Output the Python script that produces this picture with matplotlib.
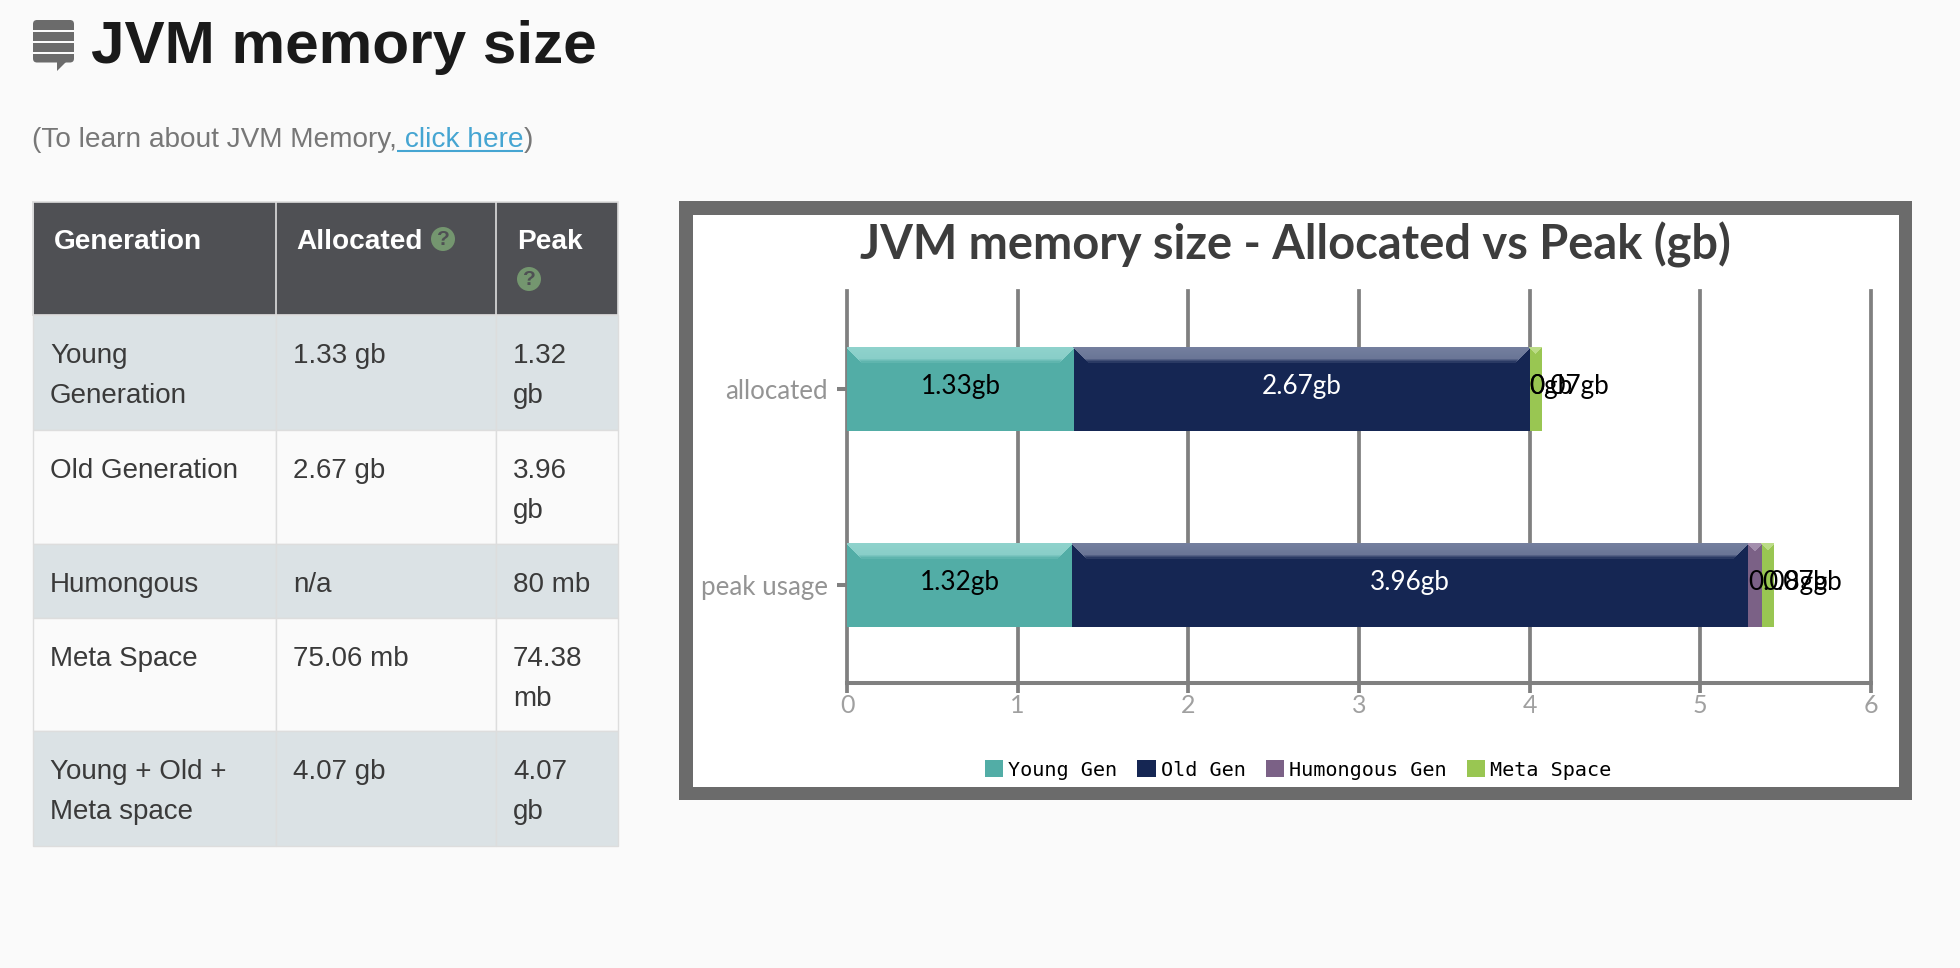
import numpy as np
import matplotlib
matplotlib.use('Agg')
import matplotlib.pyplot as plt
from matplotlib.colors import to_rgb
from matplotlib.patches import Rectangle, FancyBboxPatch, Polygon, Circle

# chart values, gb
categories = ['allocated', 'peak usage']
series_names = ['Young Gen', 'Old Gen', 'Humongous Gen', 'Meta Space']
young_gen = [1.33, 1.32]
old_gen = [2.67, 3.96]
humongous_gen = [0, 0.08]
meta_space = [0.07, 0.07]
x_ticks = [0, 1, 2, 3, 4, 5, 6]

# table text
table_header = ['Generation', 'Allocated', 'Peak']
table_generation = ['Young\nGeneration', 'Old Generation', 'Humongous', 'Meta Space', 'Young + Old +\nMeta space']
table_allocated = ['1.33 gb', '2.67 gb', 'n/a', '75.06 mb', '4.07 gb']
table_peak = ['1.32\ngb', '3.96\ngb', '80 mb', '74.38\nmb', '4.07\ngb']

colors = ['#52ada6', '#152653', '#7b6186', '#99c652']
bevel_colors = ['#8fd2cc', '#747f9e', '#a48fae', '#bcdc88']
label_colors = ['black', 'white', 'black', 'black']

W, H = 1960, 968
BG = '#fafafa'

fig = plt.figure(figsize=(W / 100, H / 100), dpi=100, facecolor=BG)

# page axes in pixels, everything around the chart sits here
page = fig.add_axes([0, 0, 1, 1])
page.set_xlim(0, W)
page.set_ylim(H, 0)
page.axis('off')

SANS = 'Liberation Sans'

# stack icon
page.add_patch(FancyBboxPatch((33, 20), 41, 42.5, boxstyle='round,pad=0,rounding_size=4', fc='#6b6b6b', ec='none'))
for y in [29.5, 41, 52]:
    page.add_patch(Rectangle((33, y), 41, 2.3, fc=BG, ec='none'))
page.add_patch(Polygon([[57, 62], [66, 62], [57, 71]], fc='#6b6b6b', ec='none'))

page.text(91, 63, 'JVM memory size', family=SANS, weight='bold', fontsize=43.4, color='#1a1a1a', va='baseline')

# subtitle, three pieces placed one after the other
renderer = fig.canvas.get_renderer()
x = 32
for piece, col in [('(To learn about JVM Memory,', '#777777'), ('\u00a0click here', '#45a5d2'), (')', '#777777')]:
    t = page.text(x, 147, piece, family=SANS, fontsize=20.2, color=col, va='baseline')
    w = t.get_window_extent(renderer).width
    if col == '#45a5d2':
        page.plot([x, x + w], [150.5, 150.5], color=col, lw=1.5, solid_capstyle='butt')
    x += w

# table
col_edges = [33, 276, 496, 618]
row_edges = [202, 315, 430, 544, 618, 731, 846]
text_x = [50, 293, 513]
header_x = [54, 296, 517]
border = '#dddddd'

page.add_patch(Rectangle((col_edges[0], row_edges[0]), col_edges[3] - col_edges[0], row_edges[1] - row_edges[0], fc='#4f5054', ec=border, lw=1.2))
for i in range(3):
    page.plot([col_edges[i], col_edges[i]], [row_edges[0], row_edges[1]], color=border, lw=1.2)
    page.text(header_x[i], 249, table_header[i], family=SANS, weight='bold', fontsize=20.2, color='white', va='baseline')

for cx, cy in [(443, 239), (529, 279)]:
    page.add_patch(Circle((cx, cy), 12, fc='#74966f', ec='none'))
    page.text(cx, cy + 0.5, '?', family=SANS, weight='bold', fontsize=15, color='#4f5054', ha='center', va='center')

for r in range(5):
    top, bottom = row_edges[r + 1], row_edges[r + 2]
    fill = '#dbe2e5' if r % 2 == 0 else BG
    for c, col_text in enumerate([table_generation, table_allocated, table_peak]):
        page.add_patch(Rectangle((col_edges[c], top), col_edges[c + 1] - col_edges[c], bottom - top, fc=fill, ec=border, lw=1.0))
        for n, line in enumerate(col_text[r].split('\n')):
            page.text(text_x[c], top + 48 + n * 40, line, family=SANS, fontsize=20, color='#3a3a3a', va='baseline')

# chart frame
page.add_patch(Rectangle((679, 201), 1233, 599, fc='#6b6b6b', ec='none'))
page.add_patch(Rectangle((693, 215), 1206, 572, fc='white', ec='none'))
page.text(1295, 260, 'JVM memory size - Allocated vs Peak (gb)', family='Lato', weight='bold', fontsize=33.8, color='#3d3d3d', ha='center', va='baseline')

# bar chart
AX_L, AX_R, AX_T, AX_B = 847, 1871, 291, 683
ax = fig.add_axes([AX_L / W, 1 - AX_B / H, (AX_R - AX_L) / W, (AX_B - AX_T) / H])
ax.set_xlim(0, 6)
ax.set_ylim(1.5, -0.5)
ax.set_facecolor('white')
GRAY = '#808080'
for side in ['top', 'right', 'left']:
    ax.spines[side].set_visible(False)
ax.spines['bottom'].set_color(GRAY)
ax.spines['bottom'].set_linewidth(2.9)
ax.grid(axis='x', color=GRAY, lw=2.7)
for line in ax.get_xgridlines():
    line.set_clip_on(False)
ax.set_axisbelow(True)
ax.set_xticks(x_ticks)
ax.set_yticks(range(len(categories)), categories)
ax.tick_params(axis='x', length=7, width=2.7, color=GRAY, labelcolor='#a0a0a0', labelsize=18, pad=1)
ax.tick_params(axis='y', length=7, width=2.9, color=GRAY, labelcolor='#949494', labelsize=18.6, pad=7)
for lab in ax.get_xticklabels() + ax.get_yticklabels():
    lab.set_family('Lato')

BAR_H = 0.425
px_x = 6 / (AX_R - AX_L)
px_y = 2 / (AX_B - AX_T)


def draw_bevel(left, width, yc, top_col, base_col):
    # lighter band on top of a segment, with mitred corners
    top = yc - BAR_H / 2
    c0, c1 = np.array(to_rgb(top_col)), np.array(to_rgb(base_col))
    for i in range(15):
        inset = i * px_x
        if width - 2 * inset <= 0:
            break
        t = i / 12 * 0.12 if i < 12 else 0.12 + (i - 11) / 4 * 0.88
        ax.add_patch(Polygon([[left + inset, top + i * px_y],
                              [left + width - inset, top + i * px_y],
                              [left + width - inset - px_x, top + (i + 1) * px_y],
                              [left + inset + px_x, top + (i + 1) * px_y]],
                             fc=c0 + (c1 - c0) * t, ec='none', antialiased=False, zorder=3))


y_pos = np.arange(len(categories))
lefts = np.zeros(len(categories))
handles = []
for s, values in enumerate([young_gen, old_gen, humongous_gen, meta_space]):
    vals = np.array(values, dtype=float)
    bars = ax.barh(y_pos, vals, left=lefts, height=BAR_H, color=colors[s], label=series_names[s], zorder=2)
    handles.append(bars)
    for b in range(len(categories)):
        draw_bevel(lefts[b], vals[b], y_pos[b], bevel_colors[s], colors[s])
        txt = f'{values[b]:g}gb'
        # labels that do not fit start at the segment's left edge
        if vals[b] < 0.5:
            pos, align = lefts[b], 'left'
        else:
            pos, align = lefts[b] + vals[b] / 2, 'center'
        ax.annotate(txt, (pos, y_pos[b]), xytext=(0, 2), textcoords='offset points',
                    ha=align, va='center', family='Lato', fontsize=18.8, color=label_colors[s], zorder=5)
    lefts = lefts + vals

fig.legend(handles=handles, loc='center', bbox_to_anchor=(1298 / W, 1 - 770 / H), ncol=4, frameon=False,
           prop={'family': 'DejaVu Sans Mono', 'size': 14.5}, handlelength=0.9, handleheight=0.9,
           handletextpad=0.25, columnspacing=1.0, borderpad=0, borderaxespad=0)

fig.savefig('out.png', dpi=100, facecolor=BG)
